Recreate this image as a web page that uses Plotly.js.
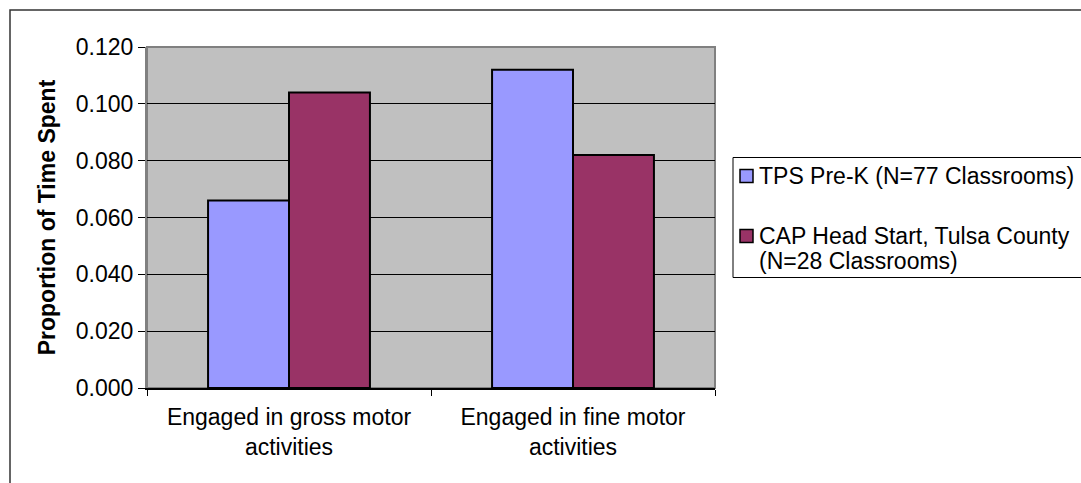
<!DOCTYPE html>
<html>
<head>
<meta charset="utf-8">
<script src="https://cdn.plot.ly/plotly-3.0.1.min.js"></script>
<style>
  body { margin: 0; padding: 0; background: #fff; overflow: hidden; }
  #chart { width: 1081px; height: 483px; }
</style>
</head>
<body>
<div id="chart"></div>
<script>
var categories = ["Engaged in gross motor<br>activities", "Engaged in fine motor<br>activities"];
var seriesNames = ["TPS Pre-K (N=77 Classrooms)", "CAP Head Start, Tulsa County<br>(N=28 Classrooms)"];
var seriesColors = ["#9999FF", "#993366"];
var tpsValues = [0.066, 0.112];
var capValues = [0.104, 0.082];
var yTicks = [0, 0.02, 0.04, 0.06, 0.08, 0.10, 0.12];

var font = "Liberation Sans, Arial, sans-serif";

// plot area in page pixels
var plotLeft = 147, plotRight = 715, plotTop = 47, plotBottom = 388;

function px2x(px){
    return (px - plotLeft) / (plotRight - plotLeft);
}
function py2y(py){
    return (plotBottom - py) / (plotBottom - plotTop);
}

function getBarTrace(name, values, color){
    return {
        name: name,
        x: categories,
        y: values,
        type: 'bar',
        hoverinfo: 'none',
        marker: {
            color: color,
            line: { color: '#000000', width: 2 }
        }
    };
}

var traces = [];
traces.push(getBarTrace(seriesNames[0], tpsValues, seriesColors[0]));
traces.push(getBarTrace(seriesNames[1], capValues, seriesColors[1]));

// hand drawn legend, like the spreadsheet one
var shapes = [];
var annotations = [];

// outer chart border, runs off the right and bottom of the picture
shapes.push({
    type: 'rect', xref: 'paper', yref: 'paper',
    x0: px2x(10), x1: px2x(1200), y0: py2y(10), y1: py2y(600),
    line: { color: '#333333', width: 1.5 }, layer: 'below'
});

// plot area border (gray)
shapes.push({
    type: 'rect', xref: 'paper', yref: 'paper',
    x0: 0, x1: 1, y0: 0, y1: 1,
    line: { color: '#808080', width: 2 }, layer: 'below'
});

// legend box
shapes.push({
    type: 'rect', xref: 'paper', yref: 'paper',
    x0: px2x(733), x1: px2x(1090), y0: py2y(157.5), y1: py2y(277.5),
    line: { color: '#000000', width: 1 }, fillcolor: '#ffffff'
});

var legendRows = [[176], [236, 261]];
for (let i = 0; i < seriesNames.length; i++){
    let lines = seriesNames[i].split("<br>");
    let yc = legendRows[i][0];
    shapes.push({
        type: 'rect', xref: 'paper', yref: 'paper',
        x0: px2x(740), x1: px2x(753), y0: py2y(yc - 6.5), y1: py2y(yc + 6.5),
        line: { color: '#000000', width: 1.5 }, fillcolor: seriesColors[i]
    });
    for (let j = 0; j < lines.length; j++){
        annotations.push({
            xref: 'paper', yref: 'paper',
            x: px2x(757), y: py2y(legendRows[i][j]),
            xanchor: 'left', yanchor: 'middle',
            text: lines[j], showarrow: false,
            font: { family: font, size: 23, color: '#000000' }
        });
    }
}

var layout = {
    width: 1081,
    height: 483,
    margin: { l: plotLeft, r: 1081 - plotRight, t: plotTop, b: 483 - plotBottom, pad: 0 },
    paper_bgcolor: '#ffffff',
    plot_bgcolor: '#C0C0C0',
    showlegend: false,
    bargap: 0.43,
    bargroupgap: 0,
    font: { family: font, size: 23, color: '#000000' },
    xaxis: {
        type: 'category',
        tickson: 'boundaries',
        ticks: 'outside',
        ticklen: 6,
        tickcolor: '#000000',
        tickwidth: 1,
        showline: true,
        linecolor: '#000000',
        linewidth: 1.5,
        showgrid: false,
        ticklabelstandoff: 8,
        tickfont: { family: font, size: 23, color: '#000000' }
    },
    yaxis: {
        range: [0, 0.12],
        tickvals: yTicks,
        tickformat: '.3f',
        ticks: 'outside',
        ticklen: 7,
        tickcolor: '#000000',
        tickwidth: 1,
        showline: true,
        linecolor: '#808080',
        linewidth: 2,
        showgrid: true,
        gridcolor: '#000000',
        gridwidth: 1,
        zeroline: false,
        tickfont: { family: font, size: 23, color: '#000000' },
        title: {
            text: '<b>Proportion of Time Spent</b>',
            standoff: 14,
            font: { family: font, size: 23, color: '#000000' }
        }
    },
    shapes: shapes,
    annotations: annotations
};

Plotly.newPlot("chart", traces, layout, { staticPlot: true, displayModeBar: false });
</script>
</body>
</html>
